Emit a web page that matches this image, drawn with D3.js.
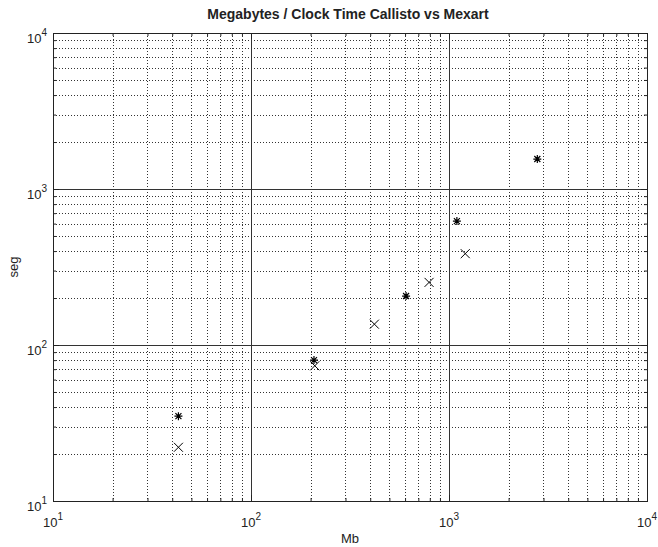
<!DOCTYPE html>
<html>
<head>
<meta charset="utf-8">
<script src="https://cdn.jsdelivr.net/npm/d3@7"></script>
<style>
body { margin: 0; background: #fff; }
text { font-family: "Liberation Sans", Arial, sans-serif; fill: #222; }
</style>
</head>
<body>
<svg id="chart"></svg>
<script>
var width = 658;
var height = 547;

// decade ticks on both axes
var decades = [10, 100, 1000, 10000];
var exponents = ["1", "2", "3", "4"];

// Callisto (*) and Mexart (x) points
var starMb  = [43, 208, 607, 1096, 2793];
var starSeg = [35, 80, 206, 623, 1556];
var crossMb  = [43, 210, 420, 793, 1208];
var crossSeg = [22.1, 73.6, 136, 252, 385];

var title = "Megabytes / Clock Time Callisto vs Mexart";
var xLabel = "Mb";
var yLabel = "seg";

var padL = 53, padR = 647, padT = 33, padB = 501;

var svg = d3.select("#chart")
    .attr("width", width)
    .attr("height", height);

var x = d3.scaleLog().domain([10, 10000]).range([padL, padR]);
var y = d3.scaleLog().domain([10, 10000]).range([padB, padT]);

// minor values 2..9 in each decade
var minor = [];
decades.slice(0, 3).forEach(d => {
    for (let k = 2; k <= 9; k++) minor.push(d * k);
});

// grid
var grid = svg.append("g");
grid.selectAll(".vminor").data(minor).enter().append("line")
    .attr("x1", d => Math.round(x(d)) + 0.5).attr("x2", d => Math.round(x(d)) + 0.5)
    .attr("y1", padT).attr("y2", padB)
    .attr("stroke", "#333").attr("stroke-width", 1).attr("stroke-dasharray", "1,2");
grid.selectAll(".hminor").data(minor).enter().append("line")
    .attr("y1", d => Math.round(y(d)) + 0.5).attr("y2", d => Math.round(y(d)) + 0.5)
    .attr("x1", padL).attr("x2", padR)
    .attr("stroke", "#333").attr("stroke-width", 1).attr("stroke-dasharray", "1,2");
grid.selectAll(".vmajor").data(decades.slice(1, 3)).enter().append("line")
    .attr("x1", d => Math.round(x(d)) + 0.5).attr("x2", d => Math.round(x(d)) + 0.5)
    .attr("y1", padT).attr("y2", padB)
    .attr("stroke", "#333").attr("stroke-width", 1);
grid.selectAll(".hmajor").data(decades.slice(1, 3)).enter().append("line")
    .attr("y1", d => Math.round(y(d)) + 0.5).attr("y2", d => Math.round(y(d)) + 0.5)
    .attr("x1", padL).attr("x2", padR)
    .attr("stroke", "#333").attr("stroke-width", 1);

// inside tick marks on all four sides
function ticks(axisFn, scale, pos) {
    var a = axisFn(scale).tickValues(decades.concat(minor)).tickFormat("")
        .tickSizeOuter(0)
        .tickSizeInner(-6);
    var g = svg.append("g").attr("transform", pos).call(a);
    g.select(".domain").remove();
    g.selectAll(".tick line").attr("stroke", "#222")
        .each(function(d) {
            var l = d3.select(this);
            if (!decades.includes(d)) {
                if (l.attr("y2") !== null && +l.attr("y2") !== 0) l.attr("y2", +l.attr("y2") / 2);
                if (l.attr("x2") !== null && +l.attr("x2") !== 0) l.attr("x2", +l.attr("x2") / 2);
            }
        });
}
ticks(d3.axisBottom, x, `translate(0,${padB})`);
ticks(d3.axisTop, x, `translate(0,${padT})`);
ticks(d3.axisLeft, y, `translate(${padL},0)`);
ticks(d3.axisRight, y, `translate(${padR},0)`);

// frame
svg.append("rect")
    .attr("x", padL + 0.5).attr("y", padT + 0.5)
    .attr("width", padR - padL).attr("height", padB - padT)
    .attr("fill", "none").attr("stroke", "#222").attr("stroke-width", 1);

// tick labels
var xl = svg.append("g").selectAll("text").data(decades).enter().append("text")
    .attr("x", d => x(d)).attr("y", padB + 26)
    .attr("text-anchor", "middle").style("font-size", "13px")
    .text("10");
xl.append("tspan").attr("dy", -7).style("font-size", "10px").text((d, i) => exponents[i]);

var yl = svg.append("g").selectAll("text").data(decades).enter().append("text")
    .attr("x", padL - 6).attr("y", d => y(d) + 10)
    .attr("text-anchor", "end").style("font-size", "13px")
    .text("10");
yl.append("tspan").attr("dy", -7).style("font-size", "10px").text((d, i) => exponents[i]);

// axis labels and title
svg.append("text")
    .attr("x", (padL + padR) / 2).attr("y", 543)
    .attr("text-anchor", "middle").style("font-size", "13px")
    .text(xLabel);
svg.append("text")
    .attr("transform", `translate(18,${(padT + padB) / 2}) rotate(-90)`)
    .attr("text-anchor", "middle").style("font-size", "13px")
    .text(yLabel);
svg.append("text")
    .attr("x", 348).attr("y", 19)
    .attr("text-anchor", "middle").style("font-size", "14px").style("font-weight", "bold")
    .text(title);

// markers
var stars = starMb.map((d, i) => ({mb: d, seg: starSeg[i]}));
var crosses = crossMb.map((d, i) => ({mb: d, seg: crossSeg[i]}));

var starPath = "M-4,0H4M0,-4V4M-3,-3L3,3M-3,3L3,-3";
var crossPath = "M-4.5,-4.5L4.5,4.5M-4.5,4.5L4.5,-4.5";

svg.append("g").selectAll("path").data(stars).enter().append("path")
    .attr("transform", d => `translate(${x(d.mb)},${y(d.seg)})`)
    .attr("d", starPath)
    .attr("stroke", "#000").attr("stroke-width", 1.2).attr("fill", "none");
svg.append("g").selectAll("path").data(crosses).enter().append("path")
    .attr("transform", d => `translate(${x(d.mb)},${y(d.seg)})`)
    .attr("d", crossPath)
    .attr("stroke", "#000").attr("stroke-width", 1).attr("fill", "none");
</script>
</body>
</html>
